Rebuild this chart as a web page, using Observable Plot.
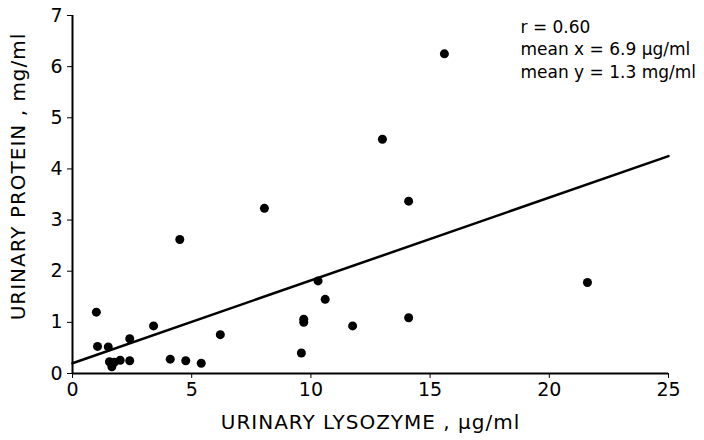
<!DOCTYPE html>
<html>
<head>
<meta charset="utf-8">
<script src="https://cdn.jsdelivr.net/npm/d3@7"></script>
<script src="https://cdn.jsdelivr.net/npm/@observablehq/plot@0.6"></script>
<style>
  html, body { margin: 0; padding: 0; background: #fff; }
  svg { font-family: "DejaVu Sans", sans-serif; }
</style>
</head>
<body>
<div id="chart"></div>
<script>
// Urinary lysozyme (µg/ml) vs urinary protein (mg/ml)
const lysozyme = [1.0, 1.05, 1.5, 1.55, 1.75, 1.65, 2.0, 2.4, 2.4, 3.4, 4.1, 4.75, 5.4, 6.2, 4.5,
  8.05, 9.6, 9.7, 9.7, 10.3, 10.6, 11.75, 13.0, 14.1, 14.1, 15.6, 21.6];
const protein = [1.2, 0.53, 0.52, 0.23, 0.22, 0.13, 0.26, 0.25, 0.68, 0.93, 0.28, 0.25, 0.2, 0.76, 2.62,
  3.23, 0.4, 1.0, 1.06, 1.81, 1.45, 0.93, 4.58, 3.37, 1.09, 6.25, 1.78];
// regression line endpoints
const fitX = [0, 25];
const fitY = [0.2, 4.25];
const xTicks = [0, 5, 10, 15, 20, 25];
const yTicks = [0, 1, 2, 3, 4, 5, 6, 7];
const xTitle = "URINARY LYSOZYME , µg/ml";
const yTitle = "URINARY PROTEIN , mg/ml";
const annotation = ["r = 0.60", "mean x = 6.9 µg/ml", "mean y = 1.3 mg/ml"];

const points = lysozyme.map((x, i) => ({x, y: protein[i]}));
const fit = fitX.map((x, i) => ({x, y: fitY[i]}));

const chart = Plot.plot({
  width: 704,
  height: 440,
  marginLeft: 72,
  marginRight: 36,
  marginTop: 15,
  marginBottom: 67,
  style: {fontFamily: "DejaVu Sans, sans-serif", color: "#000", background: "#fff"},
  x: {domain: [0, 25]},
  y: {domain: [0, 7]},
  marks: [
    Plot.axisX({ticks: xTicks, tickSize: 5, tickPadding: 4, fontSize: 19, tickFormat: "d", label: null}),
    Plot.axisY({ticks: yTicks, tickSize: 5, tickPadding: 5, fontSize: 19, tickFormat: "d", label: null}),
    Plot.ruleX([0], {stroke: "#000", strokeWidth: 2}),
    Plot.ruleY([0], {stroke: "#000", strokeWidth: 2}),
    Plot.line(fit, {x: "x", y: "y", stroke: "#000", strokeWidth: 2.5}),
    Plot.dot(points, {x: "x", y: "y", r: 4.5, fill: "#000", stroke: "none"}),
    Plot.text([xTitle], {frameAnchor: "bottom", textAnchor: "middle", dy: 55, fontSize: 20, fill: "#000",
      className: "ttl"}),
    Plot.text([yTitle], {frameAnchor: "left", textAnchor: "middle", rotate: -90, dx: -54, dy: -18,
      fontSize: 20, fill: "#000", className: "ttl"}),
    Plot.text([annotation.join("\n")], {frameAnchor: "top-right", textAnchor: "start",
      dx: -148, dy: 1, fontSize: 17, lineHeight: 1.33, fill: "#000"})
  ]
});
chart.querySelectorAll(".ttl text").forEach(t => t.setAttribute("letter-spacing", "1"));
document.getElementById("chart").appendChild(chart);
</script>
</body>
</html>
